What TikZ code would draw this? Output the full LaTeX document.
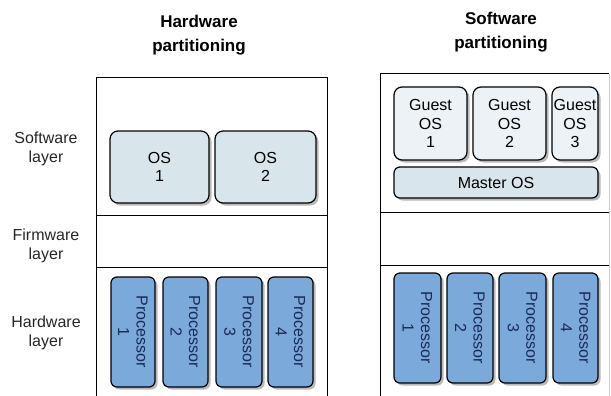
\documentclass[tikz,border=0pt]{standalone}
\usepackage{fontspec}
\setmainfont{Liberation Sans}
\usetikzlibrary{shadows}
\definecolor{osfill}{HTML}{D8E6EC}
\definecolor{guestfill}{HTML}{ECF2F5}
\definecolor{procfill}{HTML}{7AA9DA}
\definecolor{proctext}{HTML}{1A2A55}
\begin{document}
\begin{tikzpicture}[x=1pt,y=-1pt,
  every node/.style={font=\fontsize{16}{18.5}\selectfont, align=center, inner sep=0pt},
  box/.style={draw=black, line width=1.2pt, rounded corners=8pt,
    drop shadow={shadow xshift=2.5pt, shadow yshift=-2.5pt, fill=gray!55, opacity=1}},
  osbox/.style={box, fill=osfill},
  guestbox/.style={box, fill=guestfill},
  procbox/.style={box, fill=procfill, rounded corners=6pt, minimum height=110pt},
  proclabel/.style={rotate=-90, text=proctext},
  panel/.style={line width=1pt, draw=black},
  title/.style={font=\fontsize{17}{24}\selectfont\bfseries},
  rowlabel/.style={text=black!85}]
\useasboundingbox (0,0) rectangle (611,396);
% titles
\node[title] (t1) at (199,35) {Hardware\\partitioning};
\node[title] (t2) at (501,32) {Software\\partitioning};
% row labels
\node[rowlabel] (l1) at (46,149) {Software\\layer};
\node[rowlabel] (l2) at (46,246) {Firmware\\layer};
\node[rowlabel] (l3) at (46,333) {Hardware\\layer};
% left panel
\draw[panel] (96,396) -- (96,78) -- (327,78) -- (327,396);
\draw[panel] (96,215) -- (327,215);
\draw[panel] (96,267) -- (327,267);
% right panel
\draw[panel] (380,396) -- (380,74) -- (609,74);
\draw[line width=1pt, draw=gray!40] (609,74) -- (609,396);
\draw[panel] (380,212) -- (609,212);
\draw[panel] (380,265) -- (609,265);
% OS boxes (hardware partitioning)
\node[osbox, minimum width=99pt, minimum height=72pt] (os1) at (159.5,167) {OS\\1};
\node[osbox, minimum width=101pt, minimum height=72pt] (os2) at (265.5,167) {OS\\2};
% guest OS boxes
\node[guestbox, minimum width=73pt, minimum height=73pt] (g1) at (430.5,123.5) {Guest\\OS\\1};
\node[guestbox, minimum width=73pt, minimum height=73pt] (g2) at (509.5,123.5) {Guest\\OS\\2};
\node[guestbox, minimum width=46pt, minimum height=73pt] (g3) at (575,123.5) {Guest\\OS\\3};
\node[osbox, rounded corners=6pt, minimum width=204pt, minimum height=31pt] (m) at (496,182.5) {Master OS};
% processors left
\node[procbox, minimum width=44pt] (lp1) at (133,332) {};
\node[procbox, minimum width=45pt] (lp2) at (185.5,332) {};
\node[procbox, minimum width=46pt] (lp3) at (239,332) {};
\node[procbox, minimum width=45pt] (lp4) at (290.5,332) {};
\node[proclabel] (lpt1) at (lp1) {Processor\\1};
\node[proclabel] (lpt2) at (lp2) {Processor\\2};
\node[proclabel] (lpt3) at (lp3) {Processor\\3};
\node[proclabel] (lpt4) at (lp4) {Processor\\4};
% processors right
\node[procbox, minimum width=47pt] (rp1) at (417.5,328) {};
\node[procbox, minimum width=46pt] (rp2) at (470,328) {};
\node[procbox, minimum width=47pt] (rp3) at (522.5,328) {};
\node[procbox, minimum width=45pt] (rp4) at (575.5,328) {};
\node[proclabel] (rpt1) at (rp1) {Processor\\1};
\node[proclabel] (rpt2) at (rp2) {Processor\\2};
\node[proclabel] (rpt3) at (rp3) {Processor\\3};
\node[proclabel] (rpt4) at (rp4) {Processor\\4};
\end{tikzpicture}
\end{document}
